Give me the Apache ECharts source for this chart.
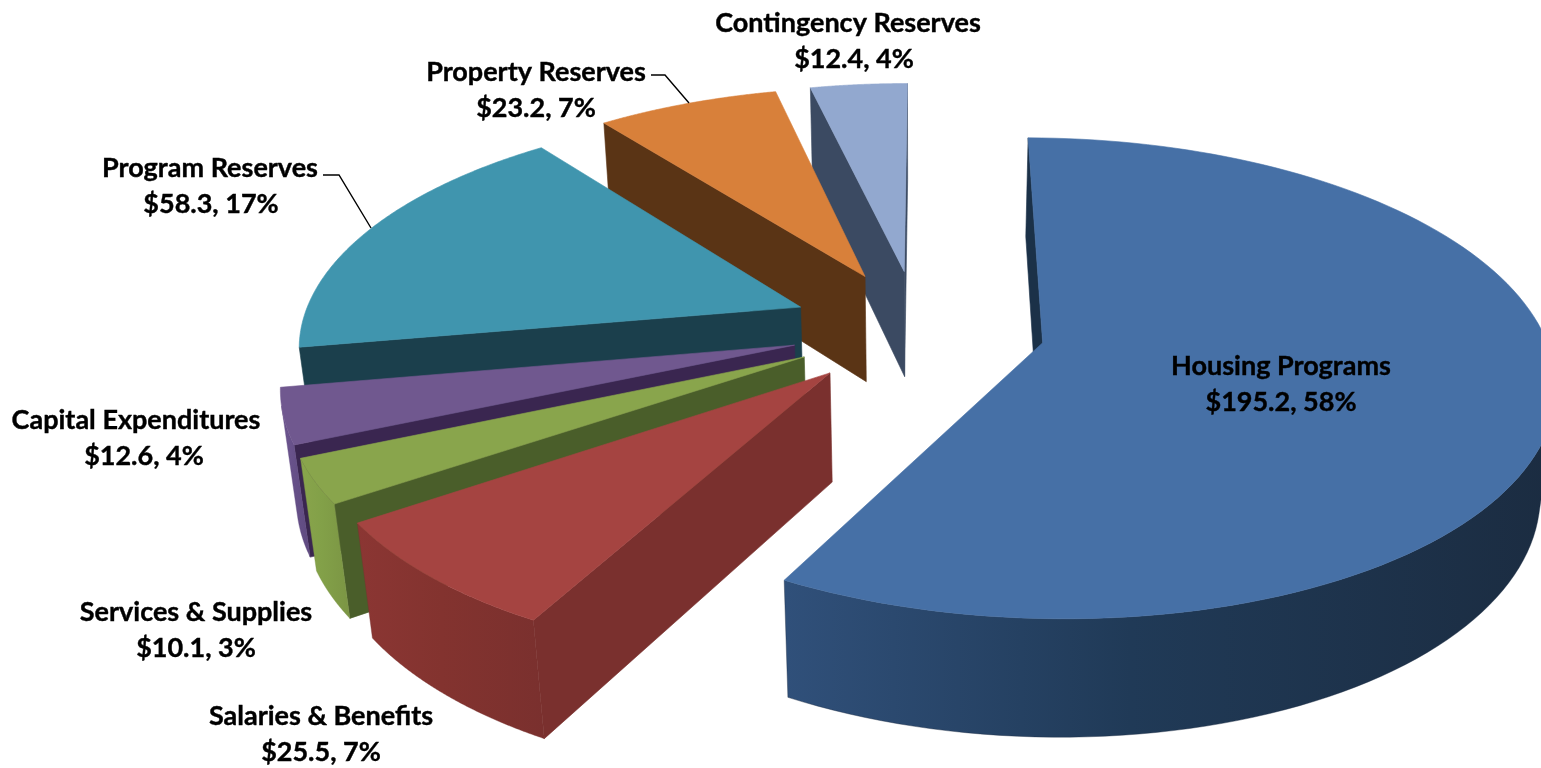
<!DOCTYPE html>
<html>
<head>
<meta charset="utf-8">
<style>html,body{margin:0;padding:0;background:#fff}#chart{width:1541px;height:768px}</style>
<script src="https://cdn.jsdelivr.net/npm/echarts@6/dist/echarts.min.js"></script>
</head>
<body>
<div id="chart"></div>
<script>
// Budget figures, clockwise from twelve o'clock
const categories = ['Housing Programs', 'Salaries & Benefits', 'Services & Supplies', 'Capital Expenditures', 'Program Reserves', 'Property Reserves', 'Contingency Reserves'];
const amounts = [195.2, 25.5, 10.1, 12.6, 58.3, 23.2, 12.4];
const statedPercents = [58, 7, 3, 4, 17, 7, 4];

// Face colours for each slice
const topColors = ['#4670a6', '#a54441', '#89a54c', '#70588f', '#4095ae', '#d8803a', '#92a8cf'];
const cutColors = ['#1b3148', '#7a302e', '#4a5e2a', '#3a2650', '#1b3f4c', '#5a3415', '#3b4a62'];
const rimFrom = ['#30507a', '#8b3633', '#89a54c', '#6d5590', '#1b3f4c', '#5a3415', '#3b4a62'];
const rimMid = ['#203a57', '#83332f', '#82a048', '#665088', '#1b3f4c', '#5a3415', '#3b4a62'];
const rimTo = ['#1b2c41', '#7a302e', '#7b9544', '#5f4a80', '#1b3f4c', '#5a3415', '#3b4a62'];

// Label line centres in page pixels: [x of first line, x of second line, y of first line]
const labelSpots = [[1281, 1281, 366], [321, 321, 716], [196, 196, 612], [136, 144, 420], [210, 211, 168], [536, 536, 72], [848, 854, 23]];
const lineGap = 36;
const leaders = { 4: [[323, 175], [339, 175], [371, 228]], 5: [[651, 75], [665, 75], [689, 103]] };

// Camera model for the tilted, exploded disc
const view = {
  cx: 918, cy: 328, focal: 3025, dist: 6.05, tilt: 27.5 * Math.PI / 180,
  thickness: 0.248, taper: 1.3, explode: 0.255, startDeg: 0.2
};
const total = amounts.reduce((a, b) => a + b, 0);

function project(u, v, z) {
  const s = Math.sin(view.tilt), c = Math.cos(view.tilt);
  const d = view.dist - v * c - z * s * view.taper;
  return [view.cx + view.focal * u / d, view.cy + view.focal * (v * s - z * c) / d];
}
const signedArea = pts => pts.reduce((sum, p, i) => {
  const q = pts[(i + 1) % pts.length];
  return sum + p[0] * q[1] - q[0] * p[1];
}, 0) / 2;

function polygon(points, fill, stroke) {
  return { type: 'polygon', shape: { points }, style: { fill, stroke: stroke || fill, lineWidth: 0.6 } };
}

function labelLine(text, x, y) {
  return {
    type: 'text', x, y,
    style: { text, fill: '#000', stroke: '#000', lineWidth: 0.4, font: 'bold 27px Lato', align: 'center', verticalAlign: 'middle' }
  };
}

function sliceElements(index) {
  let before = 0;
  for (let i = 0; i < index; i++) before += amounts[i];
  const toAngle = x => echarts.number.linearMap(x, [0, total], [0, Math.PI * 2]) + view.startDeg * Math.PI / 180;
  const a0 = toAngle(before), a1 = toAngle(before + amounts[index]), mid = (a0 + a1) / 2;
  const ou = Math.sin(mid) * view.explode, ov = -Math.cos(mid) * view.explode;
  const rim = a => [ou + Math.sin(a), ov - Math.cos(a)];
  const top = (p) => project(p[0], p[1], 0);
  const low = (p) => project(p[0], p[1], -view.thickness);
  const apex = [ou, ov];
  const steps = 120;
  const arc = [];
  for (let i = 0; i <= steps; i++) arc.push(rim(a0 + (a1 - a0) * i / steps));

  const out = [];
  // Cut faces along the two radii, when they turn towards the camera
  const cutA = [top(apex), top(arc[0]), low(arc[0]), low(apex)];
  const cutB = [top(arc[steps]), top(apex), low(apex), low(arc[steps])];
  if (signedArea(cutA) < 0) out.push(polygon(cutA, cutColors[index]));
  if (signedArea(cutB) < 0) out.push(polygon(cutB, cutColors[index]));

  // Outer rim wall, only the stretch facing the viewer
  const upper = [], lower = [];
  for (let i = 0; i < steps; i++) {
    const quad = [top(arc[i]), top(arc[i + 1]), low(arc[i + 1]), low(arc[i])];
    if (signedArea(quad) < 0) {
      if (!upper.length) { upper.push(quad[0]); lower.push(quad[3]); }
      upper.push(quad[1]); lower.push(quad[2]);
    }
  }
  if (upper.length) {
    const fill = new echarts.graphic.LinearGradient(0, 0, 1, 0, [
      { offset: 0, color: rimFrom[index] }, { offset: 0.45, color: rimMid[index] }, { offset: 1, color: rimTo[index] }
    ]);
    out.push({ type: 'polygon', shape: { points: upper.concat(lower.reverse()) }, style: { fill, stroke: rimTo[index], lineWidth: 0.4 } });
  }

  // Upper face
  out.push(polygon([top(apex)].concat(arc.map(top)), topColors[index]));

  // Leader line and two-line label
  if (leaders[index]) {
    out.push({ type: 'polyline', shape: { points: leaders[index] }, style: { fill: null, stroke: '#000', lineWidth: 1.4 } });
  }
  const spot = labelSpots[index];
  out.push(labelLine(categories[index], spot[0], spot[2]));
  out.push(labelLine('$' + amounts[index].toFixed(1) + ', ' + statedPercents[index] + '%', spot[1], spot[2] + lineGap));
  return out;
}

const chart = echarts.init(document.getElementById('chart'), null, { renderer: 'canvas' });
chart.setOption({
  animation: false,
  backgroundColor: '#ffffff',
  series: [{
    type: 'custom',
    coordinateSystem: 'none',
    // Painted from the far slice round to the near ones
    data: categories.map((name, i) => ({ name, value: [i, amounts[i]] })).reverse(),
    renderItem: (params, api) => ({ type: 'group', children: sliceElements(api.value(0)) })
  }]
});
</script>
</body>
</html>
